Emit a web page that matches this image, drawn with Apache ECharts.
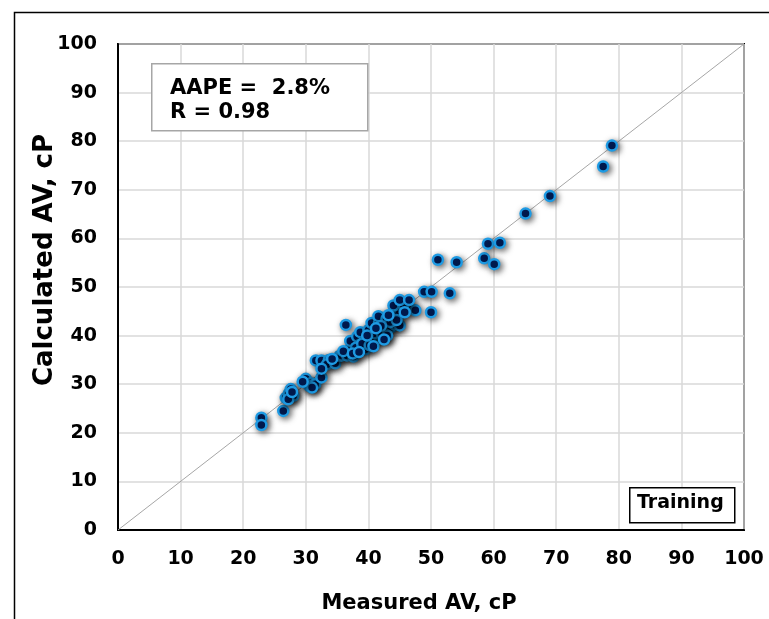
<!DOCTYPE html>
<html>
<head>
<meta charset="utf-8">
<script src="https://cdn.jsdelivr.net/npm/echarts@6/dist/echarts.min.js"></script>
<style>
  html, body { margin: 0; padding: 0; background: #fff; }
  #chart { width: 769px; height: 619px; }
</style>
</head>
<body>
<div id="chart"></div>
<script>
// measured vs calculated AV (cP), training set
const measured = [
  22.9, 22.9, 26.4, 26.8, 27.3, 27.6, 28.0, 27.2, 30.0, 30.8,
  30.6, 31.5, 31.0, 32.5, 31.6, 32.5, 33.7, 33.4, 32.5, 34.7,
  35.4, 35.7, 36.6, 37.6, 37.1, 36.4, 37.1, 38.2, 38.7, 39.5,
  39.5, 38.7, 40.0, 40.5, 41.6, 41.9, 42.7, 43.7, 40.5, 41.7,
  41.6, 42.9, 44.1, 45.0, 44.9, 46.5, 47.5, 44.0, 45.6, 45.0,
  46.5, 48.9, 50.1, 53.0, 50.0, 51.1, 54.1, 58.5, 60.1, 59.1,
  61.0, 65.1, 69.0, 77.5, 78.9, 38.0, 39.0, 40.2, 41.0, 42.2,
  43.0, 43.5, 42.0, 36.0, 37.5, 39.8, 41.2, 44.5, 43.2, 34.2,
  29.5, 27.8, 45.8, 40.8, 38.5, 42.5
];
const calculated = [
  23.1, 21.6, 24.5, 27.2, 28.1, 29.0, 27.6, 26.9, 31.1, 30.2,
  29.6, 30.0, 29.3, 31.4, 34.9, 34.9, 35.0, 34.1, 33.2, 34.3,
  35.8, 35.9, 35.9, 35.7, 37.2, 42.2, 38.9, 39.8, 38.2, 37.2,
  39.7, 40.7, 41.1, 39.2, 39.9, 39.8, 41.1, 41.8, 42.6, 42.6,
  44.0, 43.5, 42.3, 42.1, 44.4, 45.6, 45.2, 46.2, 46.4, 47.3,
  47.3, 49.0, 49.0, 48.7, 44.8, 55.6, 55.1, 55.9, 54.7, 58.9,
  59.1, 65.1, 68.7, 74.8, 79.1, 37.5, 38.3, 38.0, 40.5, 40.2,
  40.0, 42.8, 42.0, 36.8, 36.3, 40.0, 41.5, 43.2, 44.2, 35.2,
  30.5, 28.4, 44.8, 37.8, 36.6, 39.2
];
const unityLine = [[0, 0], [100, 100]];
const statLines = ['AAPE =  2.8%', 'R = 0.98'];
const setName = 'Training';

const points = measured.map((m, i) => [m, calculated[i]]);

const chart = echarts.init(document.getElementById('chart'));
const font = 'DejaVu Sans';

chart.setOption({
  animation: false,
  backgroundColor: '#fff',
  grid: {
    left: 118, top: 44, width: 626, height: 487,
    show: true, borderColor: '#000', borderWidth: 2, backgroundColor: 'transparent'
  },
  xAxis: {
    type: 'value', min: 0, max: 100, interval: 10,
    name: 'Measured AV, cP', nameLocation: 'middle', nameGap: 63, nameMoveOverlap: false,
    nameTextStyle: { fontFamily: font, fontWeight: 'bold', fontSize: 21, color: '#000', padding: [0, 24, 0, 0] },
    axisLine: { lineStyle: { color: '#000', width: 2 } },
    axisTick: { show: false },
    axisLabel: { margin: 20, fontFamily: font, fontWeight: 'bold', fontSize: 19, color: '#000' },
    splitLine: { lineStyle: { color: '#d9d9d9', width: 1.5 } }
  },
  yAxis: {
    type: 'value', min: 0, max: 100, interval: 10,
    name: 'Calculated AV, cP', nameLocation: 'middle', nameGap: 60, nameMoveOverlap: false,
    nameTextStyle: { fontFamily: font, fontWeight: 'bold', fontSize: 26, color: '#000', padding: [0, 0, 0, 54] },
    axisLine: { lineStyle: { color: '#000', width: 2 } },
    axisTick: { show: false },
    axisLabel: { margin: 21, fontFamily: font, fontWeight: 'bold', fontSize: 19, color: '#000' },
    splitLine: { lineStyle: { color: '#d9d9d9', width: 1.5 } }
  },
  series: [
    {
      type: 'line',
      data: unityLine,
      symbol: 'none',
      lineStyle: { color: '#a6a6a6', width: 1 },
      z: 2
    },
    {
      type: 'scatter',
      data: points,
      symbolSize: 10,
      itemStyle: {
        color: '#002060',
        borderColor: '#1e9be4',
        borderWidth: 2.5,
        opacity: 1,
        shadowBlur: 6,
        shadowColor: 'rgba(0,0,0,0.6)',
        shadowOffsetX: 2,
        shadowOffsetY: 2
      },
      z: 3
    }
  ],
  graphic: [
    {
      type: 'rect', left: 12, top: 10, z: -1, silent: true,
      shape: { width: 800, height: 700 },
      style: { fill: 'none', stroke: '#000', lineWidth: 1.5 }
    },
    {
      type: 'rect', left: 151, top: 63, z: 10,
      shape: { width: 216, height: 67 },
      style: { fill: '#fff', stroke: '#a6a6a6', lineWidth: 1.5 }
    },
    {
      type: 'text', left: 170, top: 78, z: 11,
      style: { text: statLines[0], font: 'bold 21px "DejaVu Sans"', fill: '#000' }
    },
    {
      type: 'text', left: 170, top: 102, z: 11,
      style: { text: statLines[1], font: 'bold 21px "DejaVu Sans"', fill: '#000' }
    },
    {
      type: 'rect', left: 629, top: 487, z: 10,
      shape: { width: 105, height: 35 },
      style: { fill: '#fff', stroke: '#000', lineWidth: 1.5 }
    },
    {
      type: 'text', left: 637, top: 494, z: 11,
      style: { text: setName, font: 'bold 19px "DejaVu Sans"', fill: '#000' }
    }
  ]
});
</script>
</body>
</html>
